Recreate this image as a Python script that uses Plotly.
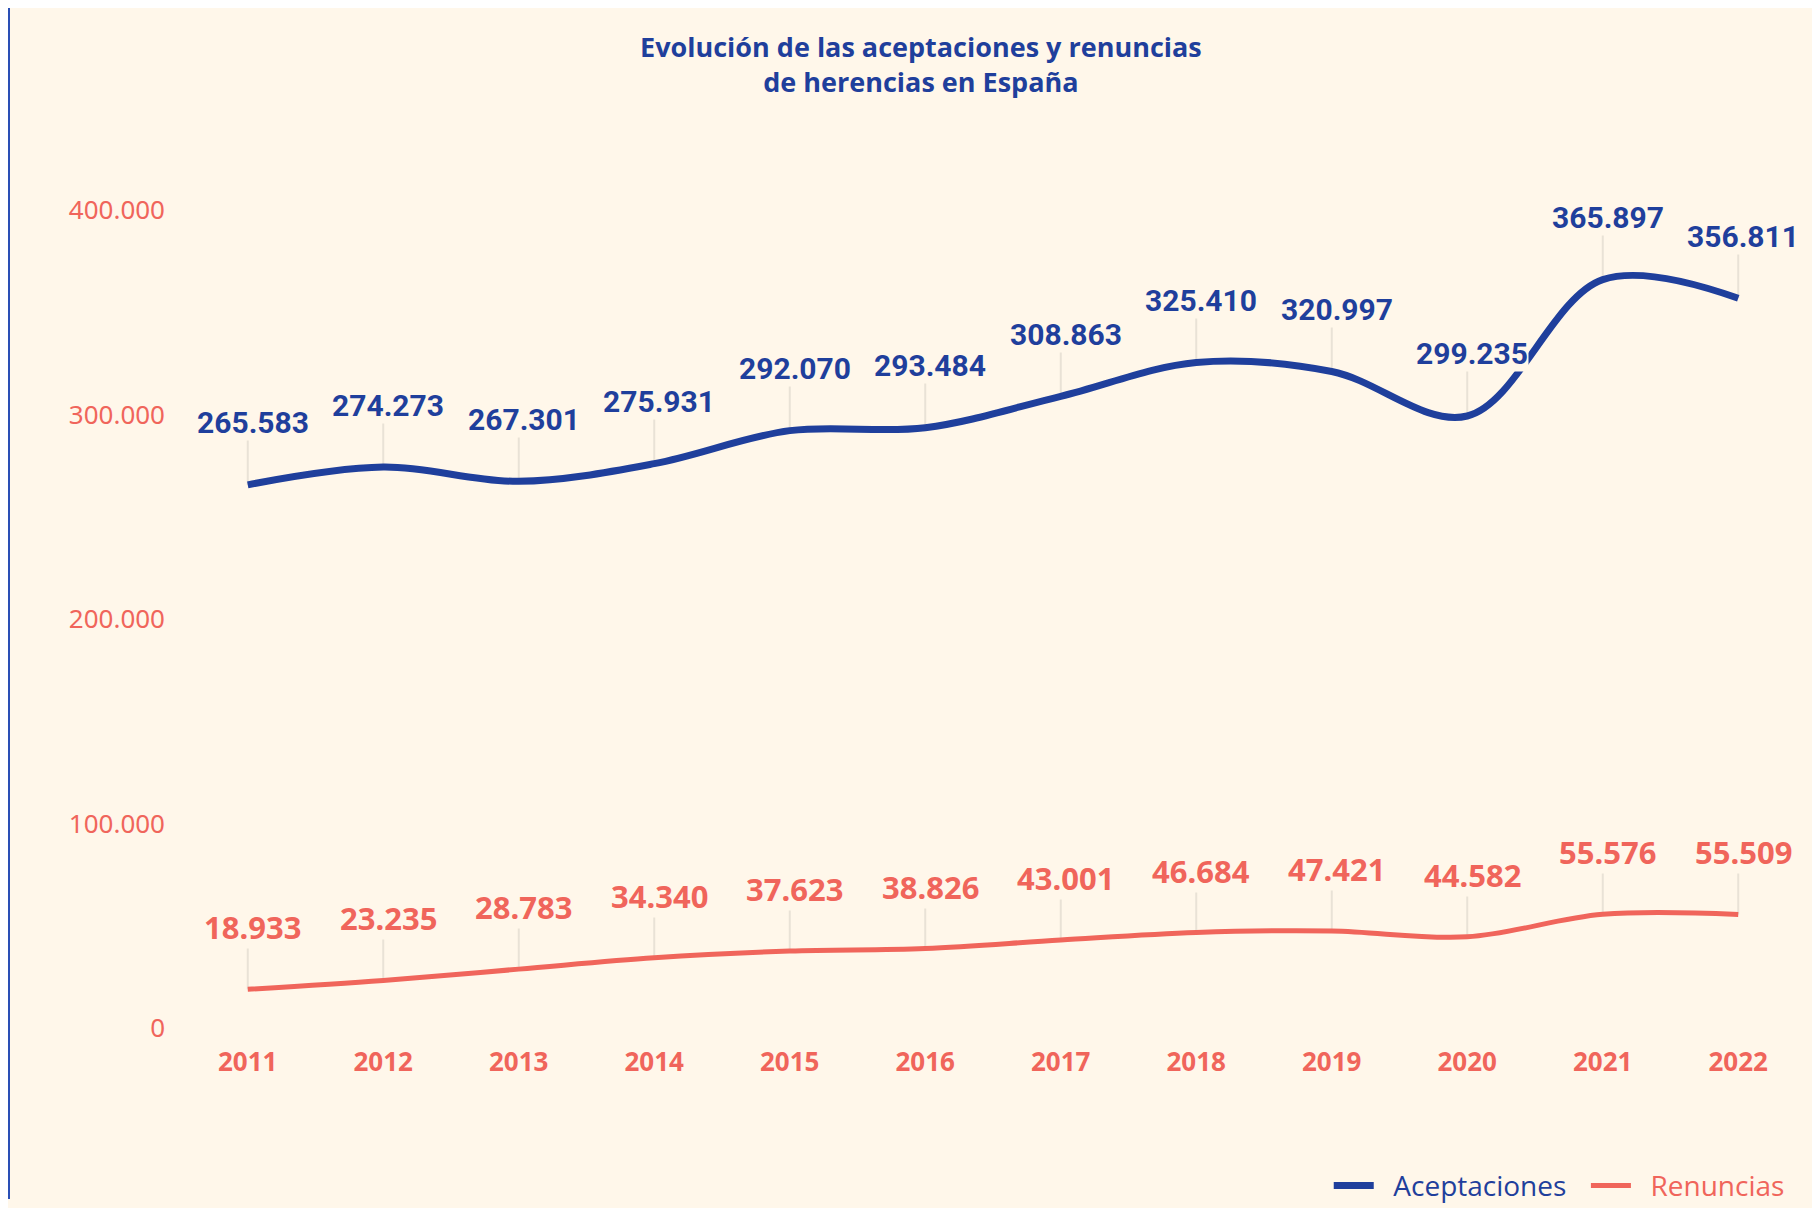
import plotly.graph_objects as go

years = [2011, 2012, 2013, 2014, 2015, 2016, 2017, 2018, 2019, 2020, 2021, 2022]
aceptaciones = [265583, 274273, 267301, 275931, 292070, 293484, 308863, 325410, 320997, 299235, 365897, 356811]
renuncias = [18933, 23235, 28783, 34340, 37623, 38826, 43001, 46684, 47421, 44582, 55576, 55509]
y_ticks = [0, 100000, 200000, 300000, 400000]

BG = "#FFF7EA"
BLUE = "#1F3F9C"
RED = "#F0655B"
LEADER = "#E9E2D6"

L, R, T, B = 172, 22, 161, 188
PW, PH = 1820 - L - R, 1208 - T - B

fig = go.Figure()
fig.add_trace(go.Scatter(
    x=years, y=aceptaciones, mode="lines",
    name=f"<span style='color:{BLUE}'>\u00a0\u00a0Aceptaciones\u00a0\u00a0</span>",
    line=dict(color=BLUE, width=7, shape="spline", smoothing=1.0),
))
fig.add_trace(go.Scatter(
    x=years, y=renuncias, mode="lines",
    name=f"<span style='color:{RED}'>\u00a0\u00a0Renuncias</span>",
    line=dict(color=RED, width=5, shape="spline", smoothing=1.0),
))

def fmt(v):
    return f"{v:,}".replace(",", ".")

shapes = []
annotations = []
for series, color, family, size in [(aceptaciones, BLUE, "Roboto", 30), (renuncias, RED, "Noto Sans", 31)]:
    for x, v in zip(years, series):
        shapes.append(dict(type="line", xref="x", yref="y", ysizemode="pixel", yanchor=v,
                           x0=x, x1=x, y0=0, y1=45, layer="below",
                           line=dict(color=LEADER, width=2)))
        annotations.append(dict(x=x, y=v, xref="x", yref="y", text=fmt(v), showarrow=False,
                                yshift=62, xshift=5, yanchor="middle",
                                font=dict(family=family, size=size, color=color, weight="bold"),
                                bgcolor=BG, borderpad=0))

# left decorative rule
shapes.append(dict(type="line", xref="paper", yref="paper",
                   x0=(1 - L) / PW, x1=(1 - L) / PW,
                   y0=(1208 - T - 1208 - 10) / PH, y1=(1208 - T - 4) / PH,
                   line=dict(color="#2A4FB5", width=2)))

fig.update_layout(
    width=1820, height=1208,
    paper_bgcolor=BG, plot_bgcolor=BG,
    separators=",.",
    margin=dict(l=L, r=R, t=T, b=B, autoexpand=False),
    title=dict(text="Evolución de las aceptaciones y renuncias<br>de herencias en España",
               x=0.5016, xanchor="center", y=0.9595, yanchor="top",
               font=dict(family="Open Sans", size=27, color=BLUE, weight="bold")),
    xaxis=dict(range=[2010.5, 2022.5], tickmode="array", tickvals=years,
               ticktext=[str(y) for y in years], showgrid=False, zeroline=False,
               showline=False, ticklabelstandoff=16,
               tickfont=dict(family="Noto Sans", size=26, color=RED, weight="bold")),
    yaxis=dict(range=[0, 420000], tickmode="array", tickvals=y_ticks,
               tickformat=",d", showgrid=False, zeroline=False, showline=False,
               ticklabelstandoff=14,
               tickfont=dict(family="Noto Sans", size=26, color=RED)),
    legend=dict(orientation="h", x=0.990, xanchor="right", yref="container",
                y=0.025, yanchor="middle",
                font=dict(family="Open Sans", size=28, color=BLUE), bgcolor="rgba(0,0,0,0)",
                itemwidth=40),
    showlegend=True,
    shapes=shapes,
    annotations=annotations,
)

fig.write_html("out.html")
